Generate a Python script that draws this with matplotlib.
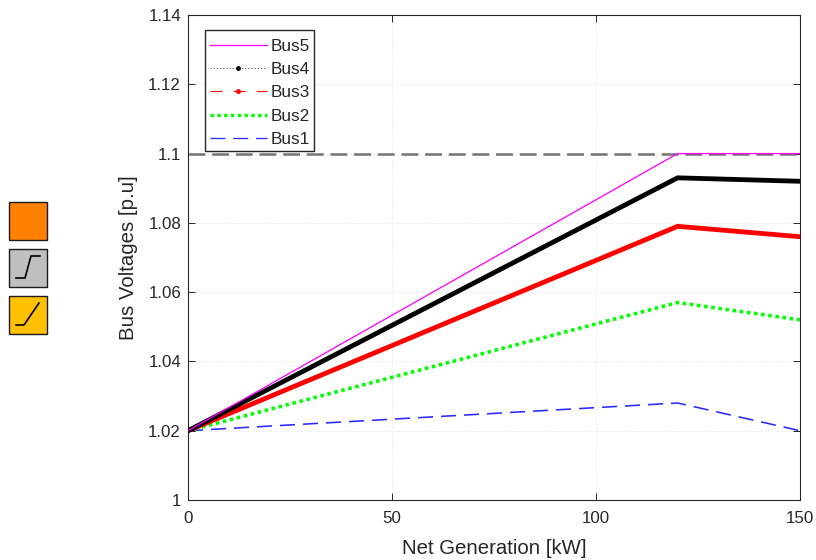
import matplotlib
matplotlib.use("Agg")
import matplotlib.pyplot as plt
from matplotlib.lines import Line2D
from matplotlib.patches import Rectangle

plt.rcParams['font.family'] = ['Liberation Sans', 'DejaVu Sans']

net_gen = [0, 120, 150]
bus1 = [1.020, 1.028, 1.020]
bus2 = [1.020, 1.057, 1.052]
bus3 = [1.020, 1.079, 1.076]
bus4 = [1.020, 1.093, 1.092]
bus5 = [1.020, 1.100, 1.100]
limit = [1.1, 1.1]
limit_x = [0, 150]
x_ticks = [0, 50, 100, 150]
y_ticks = [1, 1.02, 1.04, 1.06, 1.08, 1.1, 1.12, 1.14]
y_labels = ['1', '1.02', '1.04', '1.06', '1.08', '1.1', '1.12', '1.14']
legend_names = ['Bus5', 'Bus4', 'Bus3', 'Bus2', 'Bus1']

W, H = 816, 560
fig = plt.figure(figsize=(W / 100, H / 100), dpi=100)
ax = fig.add_axes([188 / W, 1 - 500 / H, (800 - 188) / W, (500 - 15) / H])
px = 0.72

ax.plot(limit_x, limit, color='#777777', lw=2.6 * px, dashes=(6.5, 2.6), zorder=2)
ax.plot(net_gen, bus1, color='#2a2aff', lw=1.6 * px, dashes=(9.4, 5), zorder=3)
ax.plot(net_gen, bus2, color='#00ff00', lw=3.6 * px, linestyle=(0, (1, 1)), zorder=3)
ax.plot(net_gen, bus3, color='#ff0000', lw=4.8 * px, zorder=3)
ax.plot(net_gen, bus4, color='#000000', lw=4.8 * px, zorder=3)
ax.plot(net_gen, bus5, color='#ff00ff', lw=1.3 * px, zorder=4)

ax.set_xlim(0, 150)
ax.set_ylim(1, 1.14)
ax.set_xticks(x_ticks)
ax.set_yticks(y_ticks)
ax.set_yticklabels(y_labels)
ax.tick_params(direction='in', length=5, width=0.7, top=True, right=True,
               labelsize=12.2, colors='#262626')
ax.tick_params(axis='x', pad=8)
ax.tick_params(axis='y', pad=5)
ax.grid(True, color='#dcdcdc', lw=0.6, linestyle=(0, (1, 2)))
ax.set_axisbelow(True)
for s in ax.spines.values():
    s.set_linewidth(0.8)
    s.set_color('#262626')
ax.set_xlabel('Net Generation [kW]', fontsize=14.7, color='#262626', labelpad=9.6)
ax.set_ylabel('Bus Voltages [p.u]', fontsize=14.7, color='#262626', labelpad=7)

handles = [
    Line2D([], [], color='#ff00ff', lw=1.3 * px),
    Line2D([], [], color='#555555', lw=0.9 * px, linestyle=(0, (1.5, 2)),
           marker='o', ms=2.5, mfc='k', mec='k'),
    Line2D([], [], color='#ff0000', lw=1.1 * px, dashes=(11, 10),
           marker='o', ms=2.5, mfc='r', mec='r'),
    Line2D([], [], color='#00ff00', lw=3.4 * px, linestyle=(0, (1, 1))),
    Line2D([], [], color='#2a2aff', lw=1.3 * px, dashes=(11.5, 6)),
]
ax.add_patch(Rectangle((205 / W, 1 - 151 / H), 109 / W, 121 / H, transform=fig.transFigure,
                       facecolor='white', edgecolor='#262626', lw=1.0, zorder=9))
leg = ax.legend(handles, legend_names, loc='upper left',
                bbox_to_anchor=((203 - 188) / 612, (500 - 32) / 485),
                borderaxespad=0, fontsize=12.4, frameon=False, labelspacing=0.474,
                handlelength=3.31, handletextpad=0.23, borderpad=0.4, labelcolor='#262626')
leg.set_zorder(10)

def fx(x):
    return x / W

def fy(y):
    return 1 - y / H

def icon(y0, face):
    fig.add_artist(Rectangle((fx(9), fy(y0 + 38)), 38 / W, 38 / H, transform=fig.transFigure,
                             facecolor=face, edgecolor='#1a1a1a', lw=1.0))

icon(202, '#ff8000')
icon(249, '#bfbfbf')
icon(296, '#ffc000')
fig.add_artist(Line2D([fx(16), fx(25), fx(31), fx(40)], [fy(278), fy(278), fy(256), fy(256)],
                      transform=fig.transFigure, color='k', lw=1.2))
fig.add_artist(Line2D([fx(16), fx(24), fx(39)], [fy(325), fy(325), fy(303)],
                      transform=fig.transFigure, color='k', lw=1.2))

fig.savefig('out.png', dpi=100)
